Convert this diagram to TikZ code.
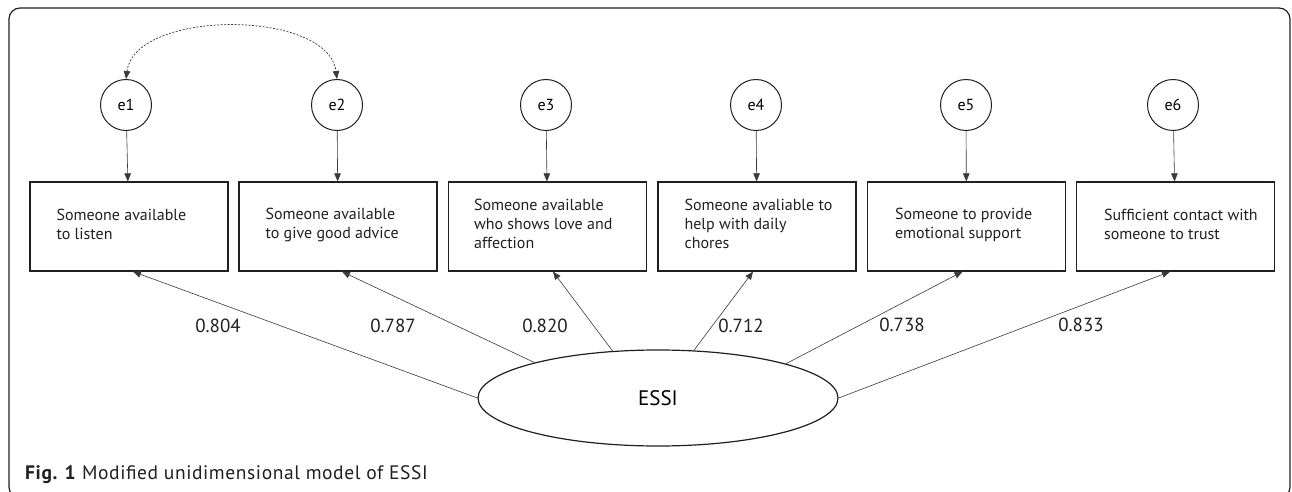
\documentclass[tikz,border=0pt]{standalone}
\usepackage{fontspec}
\setmainfont{PT Sans}
\newfontfamily\capfont[LetterSpace=3]{PT Sans}
\usetikzlibrary{arrows.meta,shapes.geometric}
\definecolor{ink}{HTML}{231F20}
\definecolor{linec}{HTML}{3A3A3A}
\tikzset{
  errnode/.style={circle, draw=ink, line width=1pt, minimum size=51pt, inner sep=0pt, font=\fontsize{16}{18}\selectfont},
  itembox/.style={rectangle, draw=ink, line width=1.2pt, minimum width=198pt, minimum height=89pt, inner sep=0pt},
  itemtext/.style={anchor=west, align=left, inner sep=0pt, font=\fontsize{16}{19}\selectfont, text=ink},
  latent/.style={ellipse, draw=ink, line width=1.2pt, minimum width=360pt, minimum height=96pt, inner sep=0pt,
     font=\fontsize{21}{24}\selectfont},
  conn/.style={draw=linec, line width=0.6pt, -{Triangle[length=8pt,width=6.5pt]}},
  corr/.style={draw=linec, line width=0.7pt, dash pattern=on 2pt off 1.5pt,
     {Triangle[length=8pt,width=6.5pt]}-{Triangle[length=8pt,width=6.5pt]}},
  coef/.style={font=\fontsize{19}{22}\selectfont, inner sep=0pt, text=ink},
  caption/.style={font=\capfont\fontsize{19.5}{24}\selectfont, inner sep=0pt, anchor=base west, text=ink},
}
\begin{document}
\begin{tikzpicture}[x=1pt,y=-1pt]
\useasboundingbox (0,0) rectangle (1292,492);
\clip (0,0) rectangle (1292,492);
\fill[white] (0,0) rectangle (1292,492);
\draw[ink, line width=1.2pt, rounded corners=11pt] (9,8) rectangle (1290,498);

% error terms
\node[errnode] (e1) at (126,105) {e1};
\node[errnode] (e2) at (337,105) {e2};
\node[errnode] (e3) at (546,105) {e3};
\node[errnode] (e4) at (756,105) {e4};
\node[errnode] (e5) at (966,105) {e5};
\node[errnode] (e6) at (1173,105) {e6};

% items
\node[itembox] (b1) at (129,226.5) {};
\node[itembox] (b2) at (338,226.5) {};
\node[itembox] (b3) at (547.5,226.5) {};
\node[itembox] (b4) at (757,226.5) {};
\node[itembox] (b5) at (966.5,226.5) {};
\node[itembox] (b6) at (1175.5,226.5) {};
\node[itemtext] (t1) at ([xshift=27pt,yshift=2pt]b1.west) {Someone available\\to listen};
\node[itemtext] (t2) at ([xshift=27pt,yshift=2pt]b2.west) {Someone available\\to give good advice};
\node[itemtext] (t3) at ([xshift=26pt,yshift=3pt]b3.west) {Someone available\\who shows love and\\affection};
\node[itemtext] (t4) at ([xshift=27pt,yshift=3pt]b4.west) {Someone avaliable to\\help with daily\\chores};
\node[itemtext] (t5) at ([xshift=28pt,yshift=2pt]b5.west) {Someone to provide\\emotional support};
\node[itemtext] (t6) at ([xshift=28pt,yshift=2pt]b6.west) {Sufficient contact with\\someone to trust};

% latent
\node[latent] (E) at (658,398) {ESSI};

% error arrows
\foreach \i in {1,...,6} { \draw[conn] (e\i) -- (b\i); }

% correlation
\draw[corr] (e1.north) .. controls +(9,-70) and +(-9,-70) .. (e2.north);

% loadings
\draw[conn] (E.180) -- ([xshift=4pt]b1.south);
\draw[conn] (E.164) -- ([xshift=4pt]b2.south);
\draw[conn] (E.134) -- ([xshift=5.5pt]b3.south);
\draw[conn] (E.53) -- ([xshift=-4pt]b4.south);
\draw[conn] (E.15) -- ([xshift=-4pt]b5.south);
\draw[conn] (E.0) -- ([xshift=-5.5pt]b6.south);

\node[coef] (l1) at (218,326) {0.804};
\node[coef] (l2) at (393,326) {0.787};
\node[coef] (l3) at (545,326) {0.820};
\node[coef] (l4) at (741,326) {0.712};
\node[coef] (l5) at (902,325) {0.738};
\node[coef] (l6) at (1081,325) {0.833};

\node[caption] (cap) at (25,479) {\textbf{Fig. 1} Modified unidimensional model of ESSI};
\end{tikzpicture}
\end{document}
